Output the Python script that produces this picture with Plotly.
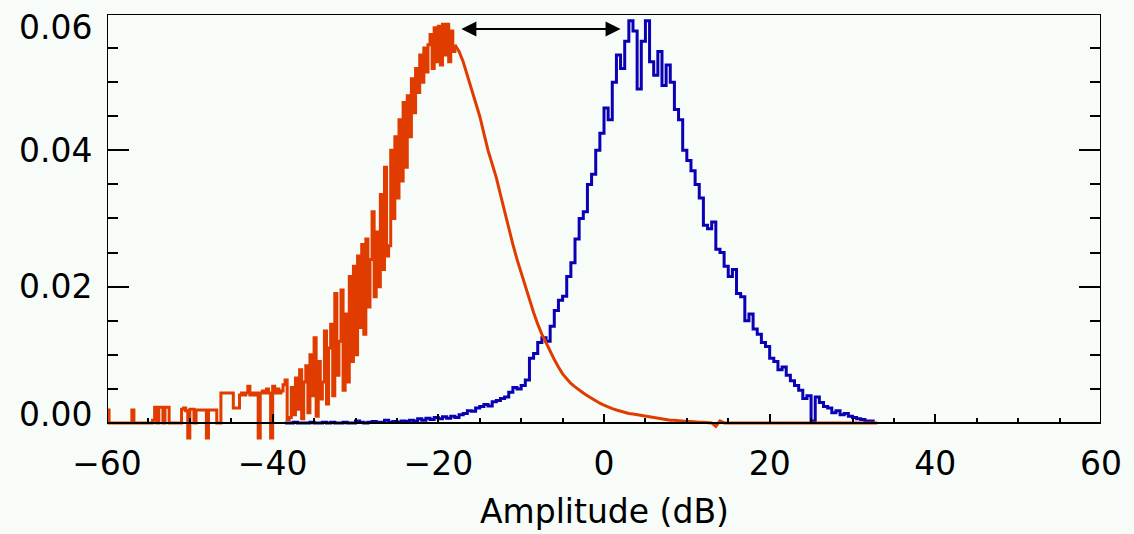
import numpy as np
import plotly.graph_objects as go

# ---------------- data (values in units of 1e-4 probability) ----------------
RED_NOISY_START = -60.0
RED_NOISY_STEP = 0.25
red_noisy_e4 = [
    19, 0, 0, 0,   0, 0, 0, 0,   0, 0, 0, 0,   19, 0, 0, 0,   0, 0, 0, 0,
    0, 0, 4, 23,   0, 23, 23, 0,   23, 23, 0, 0,   0, 0, 0, 0,   20, 22, 18, -22,
    20, 20, 0, 19,   19, 19, 19, 19,   -22, 19, 19, 19,   19, 0, 0, 44,   44, 44, 44, 44,
    44, 22, 22, 22,   41, 44, 41, 44,   54, 41, 44, 41,   44, -22, 44, 47,   44, 50, 44, -22,
    54, 44, 50, 44,   47, 56, 63, 5,   8, 52, 12, 66,   20, 78, 6, 60,   84, 15, 100, 40,
    125, 10, 90, 35,   60, 135, 28, 110,   145, 40, 190, 70,   120, 195, 48, 160,   60, 215, 90, 230,
    100, 245, 140, 262,   130, 270, 170, 240,   310, 185, 280, 200,   335, 225, 375, 245,   260, 400, 300, 420,
    330, 445, 355, 470,   375, 480, 420, 505,   455, 520, 485, 540,   500, 550, 515, 555,   570, 520, 580, 530,
    582, 525, 585, 540,   585, 530, 575, 545,
]

RED_SMOOTH_START = -18.0
RED_SMOOTH_STEP = 0.5
red_smooth_e4 = [
    555, 545, 530, 510, 490, 470, 450, 425, 400, 380,
    360, 335, 310, 285, 262, 240, 220, 200, 181, 162,
    145, 130, 118, 105, 93, 82, 72, 65, 58, 53,
    48, 44, 40, 36, 33, 29, 26, 23, 21, 19,
    17, 15, 14, 13, 12, 10, 9, 8, 7, 6,
    6, 5, 4, 4, 3, 3, 2, 2, 1, 1,
    1, 0, 0, -5, 3, 0, 0, 0, 0, 0,
    0, 0, 0, 0, 0, 0, 0, 0, 0, 0,
    0, 0, 0, 0, 0, 0, 0, 0, 0, 0,
    0, 0, 0, 0, 0, 0, 0, 0, 0, 0,
    0, 0, 0,
]

BLUE_START = -38.5
BLUE_STEP = 0.5
blue_e4 = [
    0, 0, 1, 0, 0, 0, 1, 0, 0, 1,
    0, 1, 0, 0, 1, 0, 0, 3, 1, 0,
    1, 2, 1, 1, 4, 1, 2, 1, 3, 2,
    4, 3, 6, 4, 7, 5, 8, 6, 9, 7,
    10, 8, 12, 14, 18, 17, 22, 24, 27, 25,
    31, 33, 36, 38, 45, 52, 50, 55, 63, 95,
    102, 118, 125, 120, 142, 165, 180, 186, 215, 235,
    270, 300, 310, 350, 365, 400, 425, 462, 445, 500,
    540, 520, 560, 590, 575, 490, 560, 590, 530, 510,
    545, 495, 525, 500, 460, 445, 400, 385, 370, 350,
    330, 290, 285, 295, 255, 250, 230, 215, 225, 190,
    185, 150, 160, 138, 130, 118, 112, 95, 90, 78,
    82, 70, 62, 55, 48, 36, 40, 3, 38, 30,
    24, 22, 15, 18, 12, 14, 10, 8, 6, 5,
    3, 3, 0,
]

x_tick_vals = [-60, -40, -20, 0, 20, 40, 60]
y_tick_vals = [0.0, 0.02, 0.04, 0.06]
y_tick_text = ["0.00", "0.02", "0.04", "0.06"]
x_title = "Amplitude (dB)"
arrow_from_db = -17.4
arrow_to_db = 2.0
arrow_level = 0.0578

# ---------------- build series ----------------
red_noisy_x = RED_NOISY_START + RED_NOISY_STEP * np.arange(len(red_noisy_e4))
red_noisy_y = np.array(red_noisy_e4, dtype=float) * 1e-4
red_smooth_x = RED_SMOOTH_START + RED_SMOOTH_STEP * np.arange(len(red_smooth_e4))
red_smooth_y = np.array(red_smooth_e4, dtype=float) * 1e-4
blue_x = BLUE_START + BLUE_STEP * np.arange(len(blue_e4))
blue_y = np.array(blue_e4, dtype=float) * 1e-4

BG = "#F7FCF9"
FONT = "DejaVu Sans"
YMIN = -0.0025
RED = "#E03C00"
BLUE = "#0A00B4"

fig = go.Figure()
fig.add_trace(go.Scatter(x=blue_x, y=blue_y, mode="lines",
                         line=dict(color=BLUE, width=3, shape="hv"),
                         showlegend=False, hoverinfo="skip"))
fig.add_trace(go.Scatter(x=np.append(red_noisy_x, red_smooth_x[0]),
                         y=np.append(red_noisy_y, red_smooth_y[0]), mode="lines",
                         line=dict(color=RED, width=3, shape="hv"),
                         showlegend=False, hoverinfo="skip"))
fig.add_trace(go.Scatter(x=red_smooth_x, y=red_smooth_y, mode="lines",
                         line=dict(color=RED, width=3, shape="linear"),
                         showlegend=False, hoverinfo="skip"))

axis_common = dict(showgrid=False, zeroline=False, showline=False,
                   ticks="inside", tickcolor="black", tickwidth=2)

fig.update_layout(
    width=1134, height=534,
    margin=dict(l=107, r=24, t=14, b=94),
    paper_bgcolor=BG, plot_bgcolor=BG,
    font=dict(family=FONT, color="black", size=33),
    xaxis=dict(range=[-60, 60], tickvals=x_tick_vals, ticklen=9,
               minor=dict(dtick=5, tick0=-60, ticks="inside", ticklen=5,
                          tickwidth=2, tickcolor="black"),
               anchor="free", position=(-YMIN) / (0.06 - YMIN),
               tickfont=dict(family=FONT, size=33, color="black"),
               ticklabelstandoff=18, **axis_common),
    xaxis2=dict(range=[-60, 60], overlaying="x", side="top", anchor="y",
                tickvals=x_tick_vals, ticklen=9, showticklabels=False,
                minor=dict(dtick=5, tick0=-60, ticks="inside", ticklen=5,
                           tickwidth=2, tickcolor="black"),
                **axis_common),
    yaxis=dict(range=[YMIN, 0.06], tickvals=y_tick_vals, ticklen=22,
               minor=dict(dtick=0.005, tick0=0, ticks="inside", ticklen=11,
                          tickwidth=2, tickcolor="black"),
               showticklabels=False, mirror="ticks", anchor="x",
               **axis_common),
)

# frame
fig.add_shape(type="rect", xref="x", yref="y", x0=-60, x1=60, y0=0, y1=0.06,
              line=dict(color="black", width=2), layer="above")

# y tick labels
shifts = {0.0: 8, 0.02: 0, 0.04: 0, 0.06: -13}
for v, t in zip(y_tick_vals, y_tick_text):
    fig.add_annotation(x=-60, y=v, xref="x", yref="y", text=t, showarrow=False,
                       xanchor="right", yanchor="middle", xshift=-13,
                       yshift=shifts[v], font=dict(family=FONT, size=33, color="black"))

# x title
fig.add_annotation(x=0.5, y=-0.169, xref="paper", yref="paper", text=x_title,
                   showarrow=False, xanchor="center", yanchor="middle",
                   font=dict(family=FONT, size=33, color="black"))

# double arrow
fig.add_annotation(x=arrow_to_db, y=arrow_level, ax=arrow_from_db, ay=arrow_level,
                   xref="x", yref="y", axref="x", ayref="y", text="",
                   showarrow=True, arrowhead=2, startarrowhead=2,
                   arrowside="end+start", arrowwidth=2, arrowsize=1.5,
                   startarrowsize=1.5, arrowcolor="black", standoff=0,
                   startstandoff=0)

fig.write_html("out.html")
